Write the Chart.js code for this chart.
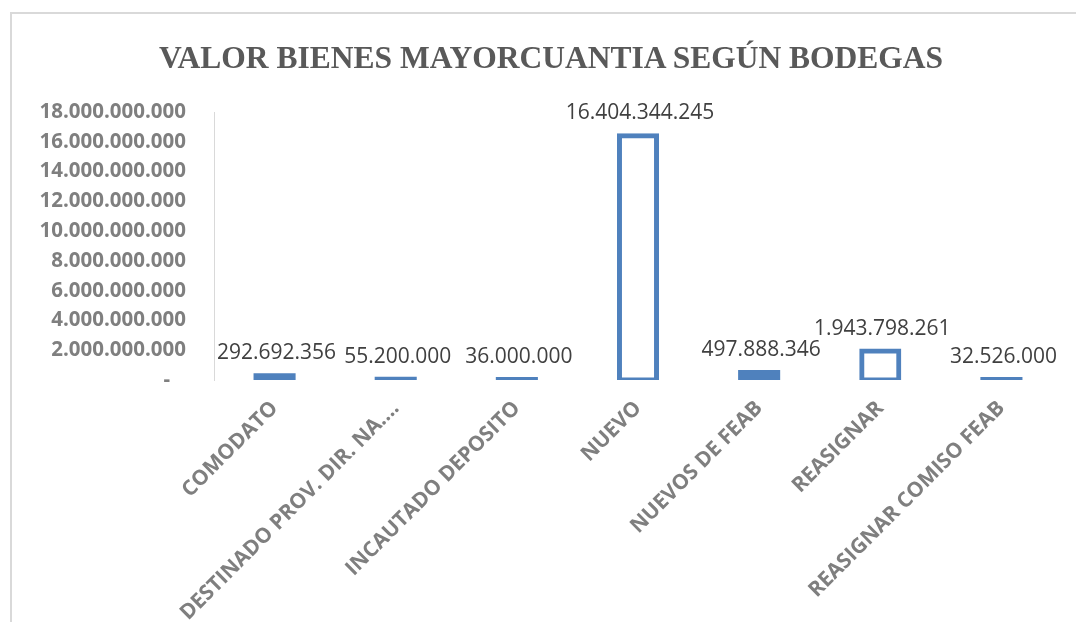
<!DOCTYPE html>
<html>
<head>
<meta charset="utf-8">
<script src="https://cdn.jsdelivr.net/npm/chart.js@4.4.1/dist/chart.umd.min.js"></script>
<style>
  html, body { margin: 0; padding: 0; background: #ffffff; }
  body { width: 1076px; height: 622px; overflow: hidden; position: relative; }
  #frame { position: absolute; left: 10px; top: 12px; width: 1200px; height: 700px;
           border-left: 2px solid #d9d9d9; border-top: 2px solid #d9d9d9; }
  #wrap { position: absolute; left: 0; top: 0; width: 1076px; height: 622px; }
  #title { position: absolute; left: 151px; width: 800px; top: 38px; text-align: center;
           font-family: "Liberation Serif", "Times New Roman", serif; font-weight: bold;
           font-size: 31.5px; line-height: 40px; color: #595959; white-space: nowrap; }
</style>
</head>
<body>
<div id="frame"></div>
<div id="wrap"><canvas id="c" width="1076" height="622"></canvas></div>
<div id="title"></div>
<script>
const categories = ['COMODATO', 'DESTINADO PROV. DIR. NA....', 'INCAUTADO DEPOSITO', 'NUEVO', 'NUEVOS DE FEAB', 'REASIGNAR', 'REASIGNAR COMISO FEAB'];
const values = [292692356, 55200000, 36000000, 16404344245, 497888346, 1943798261, 32526000];
const valueLabels = ['292.692.356', '55.200.000', '36.000.000', '16.404.344.245', '497.888.346', '1.943.798.261', '32.526.000'];
const yTickLabels = ['-', '2.000.000.000', '4.000.000.000', '6.000.000.000', '8.000.000.000', '10.000.000.000', '12.000.000.000', '14.000.000.000', '16.000.000.000', '18.000.000.000'];
const chartTitle = 'VALOR BIENES MAYORCUANTIA SEGÚN BODEGAS';

document.getElementById('title').textContent = chartTitle;

const BLUE = '#4f81bd';
const BIG = 1000000000;

const labelPlugin = {
  id: 'valueLabels',
  afterDatasetsDraw(chart) {
    const ctx = chart.ctx;
    const meta = chart.getDatasetMeta(0);
    const y = chart.scales.y;
    ctx.save();
    ctx.font = '21px "Open Sans"';
    ctx.fillStyle = '#404040';
    ctx.textAlign = 'center';
    ctx.textBaseline = 'alphabetic';
    meta.data.forEach((el, i) => {
      const py = y.getPixelForValue(values[i]);
      ctx.fillText(valueLabels[i], el.x + 2, py - 16.5);
    });
    ctx.restore();
  }
};

function draw() {
  new Chart(document.getElementById('c'), {
    type: 'bar',
    data: {
      labels: categories,
      datasets: [{
        data: values,
        borderColor: BLUE,
        borderSkipped: false,
        borderWidth: (c) => (c.raw > BIG ? 5 : 0),
        backgroundColor: (c) => (c.raw > BIG ? '#ffffff' : BLUE),
        inflateAmount: 2.5,
        categoryPercentage: 1,
        barPercentage: 0.306
      }]
    },
    options: {
      responsive: false,
      animation: false,
      events: [],
      layout: { padding: { left: 0, right: 14, top: 112, bottom: 0 } },
      plugins: {
        legend: { display: false },
        tooltip: { enabled: false },
        title: { display: false }
      },
      scales: {
        x: {
          grid: { display: false, drawTicks: false },
          border: { display: false },
          ticks: {
            color: '#7f7f7f',
            font: { family: '"Open Sans"', size: 21, weight: 'bold' },
            minRotation: 45,
            maxRotation: 45,
            autoSkip: false,
            padding: 16
          },
          afterFit(scale) { scale.height = 242; }
        },
        y: {
          min: 0,
          max: 18000000000,
          grid: { display: false, drawTicks: false },
          border: { display: true, color: '#d9d9d9', width: 1 },
          ticks: {
            stepSize: 2000000000,
            color: '#7f7f7f',
            font: { family: '"Open Sans"', size: 20.5, weight: 'bold' },
            padding: 28,
            callback: (v, i) => (i === 0 ? yTickLabels[0] + '   ' : yTickLabels[i])
          },
          afterFit(scale) { scale.width = 214; }
        }
      }
    },
    plugins: [labelPlugin]
  });
}

Promise.all([
  document.fonts.load('bold 20px "Open Sans"'),
  document.fonts.load('21px "Open Sans"'),
  document.fonts.load('bold 31px "Liberation Serif"')
]).then(draw, draw);
</script>
</body>
</html>
